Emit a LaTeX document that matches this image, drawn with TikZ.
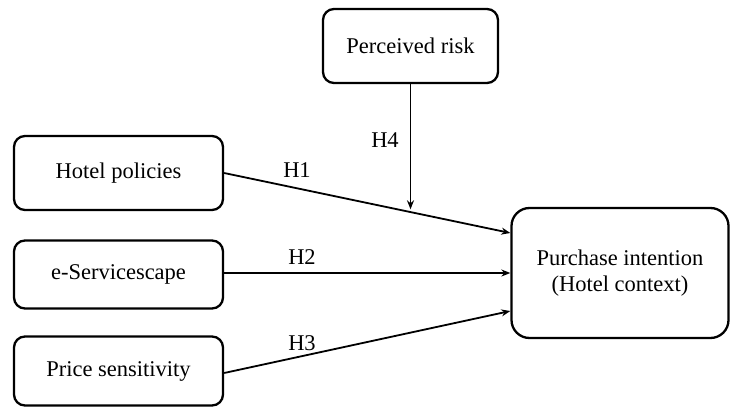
\documentclass[tikz,border=0pt]{standalone}
\usepackage{fontspec}
\setmainfont{Liberation Serif}
\usetikzlibrary{arrows.meta,calc}
\begin{document}
\begin{tikzpicture}[x=1pt,y=-1pt,
  box/.style={draw=black,line width=2.3pt,rounded corners=11pt,inner sep=0pt,align=center,font=\fontsize{22.5}{26}\selectfont},
  conn/.style={line width=1.8pt,-{Stealth[length=9pt,width=7pt]}},
  hlab/.style={font=\fontsize{22.5}{26}\selectfont,inner sep=0pt}]
\useasboundingbox (0,0) rectangle (731,407);
\node[box,minimum width=175pt,minimum height=74pt] (risk) at (410.5,46) {Perceived risk};
\node[box,minimum width=209pt,minimum height=74pt] (hotel) at (118.5,173) {Hotel policies};
\node[box,minimum width=209pt,minimum height=68pt] (eserv) at (118.5,274.5) {e-Servicescape};
\node[box,minimum width=209pt,minimum height=69pt] (price) at (118.5,371) {Price sensitivity};
\node[box,rounded corners=18pt,minimum width=217pt,minimum height=130pt] (purch) at (620,273) {Purchase intention\\(Hotel context)};
\draw[conn] (hotel.east) -- coordinate[pos=0.655] (m) ($(purch.west)+(0,-40)$);
\draw[conn] (eserv.east |- purch.west) -- (purch.west);
\draw[conn] ($(price.east)+(0,2)$) -- ($(purch.west)+(0,38)$);
\draw[conn] (risk.south) -- ($(risk.south |- m)+(0,-3)$);
\node[hlab] (h1) at (297,170) {H1};
\node[hlab] (h2) at (302,257) {H2};
\node[hlab] (h3) at (302,343) {H3};
\node[hlab] (h4) at (385,140) {H4};
\end{tikzpicture}
\end{document}
